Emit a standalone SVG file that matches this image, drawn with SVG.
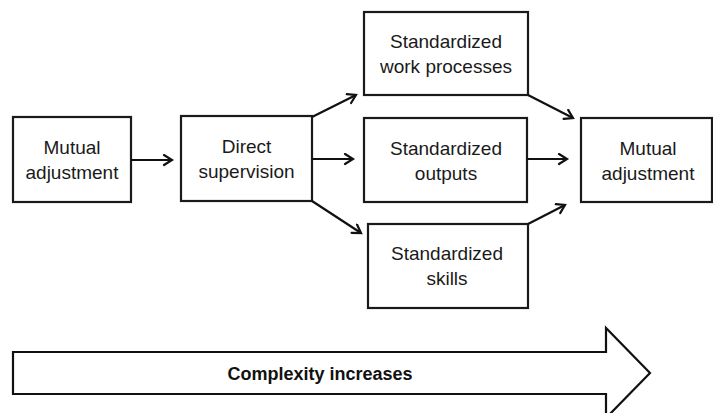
<svg xmlns="http://www.w3.org/2000/svg" width="713" height="413" viewBox="0 0 713 413">
<defs>
<style>
.box{fill:#fff;stroke:#1a1a1a;stroke-width:2.2}
.lbl{font-family:"Liberation Sans",Arial,sans-serif;font-size:19px;fill:#1a1a1a;text-anchor:middle}
.big{font-family:"Liberation Sans",Arial,sans-serif;font-size:18px;font-weight:bold;fill:#111;text-anchor:middle}
.con{fill:none;stroke:#111;stroke-width:2.2;marker-end:url(#ah)}
</style>
<marker id="ah" markerUnits="userSpaceOnUse" markerWidth="14" markerHeight="14" refX="10" refY="6" orient="auto">
<path d="M2,1 L10,6 L2,11" fill="none" stroke="#111" stroke-width="2.2" stroke-linecap="round" stroke-linejoin="miter"/>
</marker>
</defs>
<rect width="713" height="413" fill="#fff"/>
<g id="n-mutual1">
<rect class="box" x="13" y="117" width="118" height="85"/>
<text class="lbl" x="72" y="154">Mutual</text>
<text class="lbl" x="72" y="179">adjustment</text>
</g>
<g id="n-direct">
<rect class="box" x="181" y="116" width="131" height="85"/>
<text class="lbl" x="246.5" y="153">Direct</text>
<text class="lbl" x="246.5" y="178">supervision</text>
</g>
<g id="n-work">
<rect class="box" x="364" y="12" width="164" height="83"/>
<text class="lbl" x="446" y="48">Standardized</text>
<text class="lbl" x="446" y="73">work processes</text>
</g>
<g id="n-outputs">
<rect class="box" x="364" y="118" width="163" height="84"/>
<text class="lbl" x="446" y="155">Standardized</text>
<text class="lbl" x="446" y="180">outputs</text>
</g>
<g id="n-skills">
<rect class="box" x="368" y="224" width="160" height="84"/>
<text class="lbl" x="447" y="260">Standardized</text>
<text class="lbl" x="447" y="285">skills</text>
</g>
<g id="n-mutual2">
<rect class="box" x="581" y="118" width="131" height="84"/>
<text class="lbl" x="648" y="155">Mutual</text>
<text class="lbl" x="648" y="180">adjustment</text>
</g>
<g id="connectors">
<line class="con" x1="131" y1="160" x2="172" y2="160"/>
<line class="con" x1="312" y1="117" x2="356" y2="95"/>
<line class="con" x1="312" y1="159" x2="353" y2="159"/>
<line class="con" x1="312" y1="201" x2="361" y2="233"/>
<line class="con" x1="528" y1="95" x2="573" y2="118"/>
<line class="con" x1="527" y1="159" x2="567" y2="159"/>
<line class="con" x1="528" y1="224" x2="565" y2="205"/>
</g>
<g id="complexity">
<path d="M13,352 L606,352 L606,328 L650,373 L606,418 L606,394 L13,394 Z" fill="#fff" stroke="#111" stroke-width="2.2" stroke-linejoin="miter"/>
<text class="big" x="320" y="380">Complexity increases</text>
</g>
</svg>
